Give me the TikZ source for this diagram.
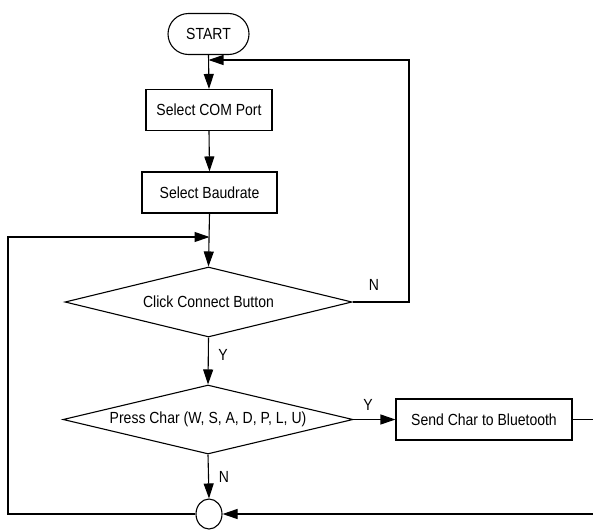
\documentclass[tikz,border=0pt]{standalone}
\usepackage{fontspec}
\setmainfont{Liberation Sans}
\usetikzlibrary{shapes.geometric,arrows.meta}
\newcommand\tallt[1]{\scalebox{1}[1.15]{#1}}
\begin{document}
\begin{tikzpicture}[x=1pt,y=-1pt,
  every node/.style={font=\fontsize{14}{16}\selectfont, inner sep=0pt},
  line/.style={line width=1.1pt, draw=black},
  arr/.style={line, -{Triangle[length=15pt,width=10pt]}},
  procbox/.style={draw, line width=1.1pt, rectangle, minimum height=41pt},
  decide/.style={draw, line width=1.1pt, diamond, aspect=4},
  lbl/.style={font=\fontsize{14}{16}\selectfont}]
\useasboundingbox (0,0) rectangle (593,530);
\node[draw, line width=1.1pt, rounded corners=20.5pt, minimum width=81pt, minimum height=41pt] (start) at (208.5,34) {\tallt{START}};
\node[procbox, minimum width=126pt] (com) at (209,110) {\tallt{Select COM Port}};
\node[procbox, minimum width=135pt] (baud) at (209.5,192.5) {\tallt{Select Baudrate}};
\node[decide, minimum width=287pt, minimum height=70pt] (d1) at (208.5,302) {\tallt{Click Connect Button}};
\node[decide, minimum width=290pt, minimum height=69pt] (d2) at (208,419.5) {\tallt{Press Char (W, S, A, D, P, L, U)}};
\node[procbox, minimum width=176pt] (send) at (484,419.5) {\tallt{Send Char to Bluetooth}};
\node[draw, line width=1.1pt, ellipse, minimum width=26pt, minimum height=30pt] (circ) at (209,514) {};
\coordinate (r1) at (start.south |- 0,60);
\coordinate (j1) at (baud.south |- 0,237);
\coordinate (rr) at (409,302);
\coordinate (rt) at (409,60);
\coordinate (ll) at (8,514);
\coordinate (lt) at (8,237);
\coordinate (sr) at (600,419.5);
\coordinate (sb) at (600,514);
\draw[arr] (start.south) -- (com.north);
\draw[arr] (com.south) -- (baud.north);
\draw[arr] (baud.south) -- (d1.north);
\draw[arr] (d1.south) -- (d2.north);
\draw[arr] (d2.east) -- (send.west);
\draw[arr] (d2.south) -- (circ.north);
\draw[arr] (d1.east) -- (rr) -- (rt) -- (r1);
\draw[arr] (circ.west) -- (ll) -- (lt) -- (j1);
\draw[arr] (send.east) -- (sr) -- (sb) -- (circ.east);
\node[lbl] (n1) at (374,285) {\tallt{N}};
\node[lbl] (y1) at (223,355) {\tallt{Y}};
\node[lbl] (y2) at (368,405) {\tallt{Y}};
\node[lbl] (n2) at (224,477) {\tallt{N}};
\end{tikzpicture}
\end{document}
